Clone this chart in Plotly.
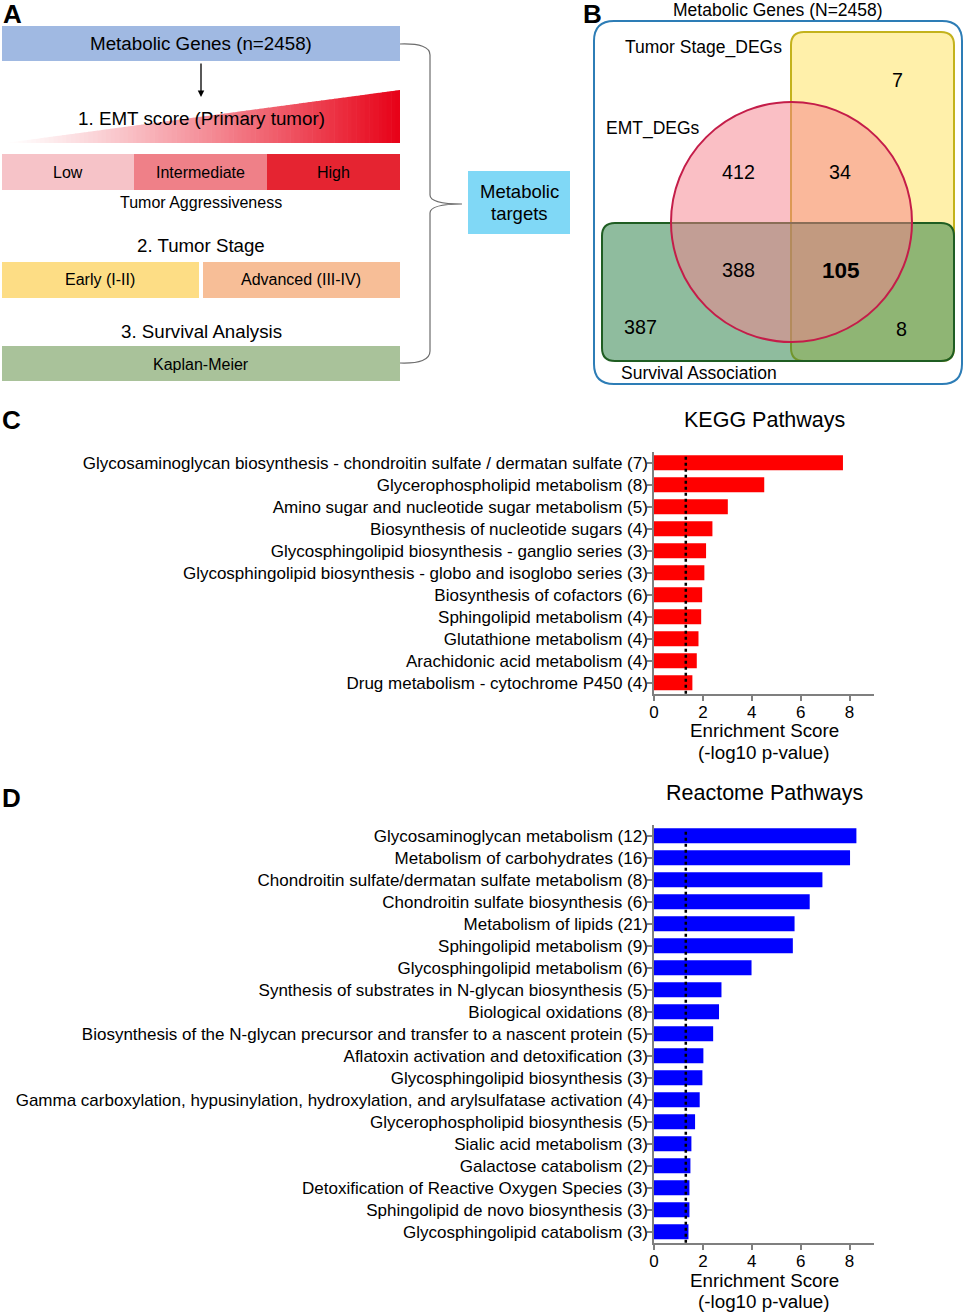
import plotly.graph_objects as go

W, H = 969, 1313

# ---------------- data ----------------
kegg_terms = [
    "Glycosaminoglycan biosynthesis - chondroitin sulfate / dermatan sulfate (7)",
    "Glycerophospholipid metabolism (8)",
    "Amino sugar and nucleotide sugar metabolism (5)",
    "Biosynthesis of nucleotide sugars (4)",
    "Glycosphingolipid biosynthesis - ganglio series (3)",
    "Glycosphingolipid biosynthesis - globo and isoglobo series (3)",
    "Biosynthesis of cofactors (6)",
    "Sphingolipid metabolism (4)",
    "Glutathione metabolism (4)",
    "Arachidonic acid metabolism (4)",
    "Drug metabolism - cytochrome P450 (4)",
]
kegg_scores = [7.73, 4.51, 3.02, 2.39, 2.13, 2.06, 1.97, 1.93, 1.82, 1.75, 1.57]

reactome_terms = [
    "Glycosaminoglycan metabolism (12)",
    "Metabolism of carbohydrates (16)",
    "Chondroitin sulfate/dermatan sulfate metabolism (8)",
    "Chondroitin sulfate biosynthesis (6)",
    "Metabolism of lipids (21)",
    "Sphingolipid metabolism (9)",
    "Glycosphingolipid metabolism (6)",
    "Synthesis of substrates in N-glycan biosynthesis (5)",
    "Biological oxidations (8)",
    "Biosynthesis of the N-glycan precursor and transfer to a nascent protein (5)",
    "Aflatoxin activation and detoxification (3)",
    "Glycosphingolipid biosynthesis (3)",
    "Gamma carboxylation, hypusinylation, hydroxylation, and arylsulfatase activation (4)",
    "Glycerophospholipid biosynthesis (5)",
    "Sialic acid metabolism (3)",
    "Galactose catabolism (2)",
    "Detoxification of Reactive Oxygen Species (3)",
    "Sphingolipid de novo biosynthesis (3)",
    "Glycosphingolipid catabolism (3)",
]
reactome_scores = [8.28, 8.02, 6.89, 6.37, 5.75, 5.68, 3.99, 2.76, 2.66, 2.42,
                   2.02, 1.98, 1.87, 1.68, 1.53, 1.49, 1.45, 1.45, 1.41]

x_tick_vals = [0, 2, 4, 6, 8]
pvalue_cutoff = 1.301  # -log10(0.05)

venn_set_labels = ["Tumor Stage_DEGs", "EMT_DEGs", "Survival Association"]
venn_counts = [7, 412, 34, 388, 105, 387, 8]

emt_levels = ["Low", "Intermediate", "High"]
stage_levels = ["Early (I-II)", "Advanced (III-IV)"]

# ---------------- helpers (pixel -> paper) ----------------
def X(px):
    return px / W


def Y(py):
    return 1 - py / H


def P(x, y):
    return "{:.5f},{:.5f}".format(X(x), Y(y))


def path_from(points, close=True):
    s = "M " + P(*points[0])
    for p in points[1:]:
        s += " L " + P(*p)
    if close:
        s += " Z"
    return s


def rounded_rect(x0, y0, x1, y1, r):
    return ("M " + P(x0 + r, y0) + " L " + P(x1 - r, y0) + " Q " + P(x1, y0) + " " + P(x1, y0 + r)
            + " L " + P(x1, y1 - r) + " Q " + P(x1, y1) + " " + P(x1 - r, y1)
            + " L " + P(x0 + r, y1) + " Q " + P(x0, y1) + " " + P(x0, y1 - r)
            + " L " + P(x0, y0 + r) + " Q " + P(x0, y0) + " " + P(x0 + r, y0) + " Z")


shapes = []
annotations = []
FONT = "Liberation Sans, Arial, sans-serif"


def rect(x0, y0, x1, y1, color):
    shapes.append(dict(type="rect", xref="paper", yref="paper",
                       x0=X(x0), x1=X(x1), y0=Y(y1), y1=Y(y0),
                       fillcolor=color, line=dict(width=0), layer="below"))


def text(px, py, s, size, bold=False, xanchor="center", color="black"):
    if bold:
        s = "<b>" + s + "</b>"
    annotations.append(dict(xref="paper", yref="paper", x=X(px), y=Y(py), text=s,
                            showarrow=False, xanchor=xanchor, yanchor="middle",
                            borderpad=0, font=dict(size=size, family=FONT, color=color)))


# ---------------- Panel A ----------------
text(2, 14, "A", 26, bold=True, xanchor="left")
rect(2, 26, 400, 61, "#A0B9E2")
text(201, 44, "Metabolic Genes (n=2458)", 18.8)
annotations.append(dict(xref="paper", yref="paper", axref="pixel", ayref="pixel",
                        x=X(201), y=Y(97), ax=0, ay=-35, text="",
                        showarrow=True, arrowhead=2, arrowsize=1, arrowwidth=1.3,
                        arrowcolor="black"))

# gradient triangle
N = 90
xl, xr, yb, yt = 5, 400, 143, 90
for i in range(N):
    a = xl + (xr - xl) * i / N
    b = min(xl + (xr - xl) * (i + 1) / N + 0.6, xr)
    ta = yb - (a - xl) / (xr - xl) * (yb - yt)
    tb = yb - (b - xl) / (xr - xl) * (yb - yt)
    t = ((i + 0.5) / N) ** 1.2
    r = int(round(255 + (231 - 255) * t))
    g = int(round(255 + (0 - 255) * t))
    bl = int(round(255 + (22 - 255) * t))
    shapes.append(dict(type="path", xref="paper", yref="paper",
                       path=path_from([(a, yb), (b, yb), (b, tb), (a, ta)]),
                       fillcolor="rgb({},{},{})".format(r, g, bl), line=dict(width=0),
                       layer="below"))
text(201, 118, "1. EMT score (Primary tumor)", 18.8)

emt_colors = ["#F6C3C8", "#EF8088", "#E52431"]
edges = [2, 134, 267, 400]
for i, lab in enumerate(emt_levels):
    rect(edges[i], 154, edges[i + 1], 190, emt_colors[i])
    text((edges[i] + edges[i + 1]) / 2, 172, lab, 16)
text(201, 203, "Tumor Aggressiveness", 16)

text(201, 246, "2. Tumor Stage", 18.7)
rect(2, 262, 199, 298, "#FDDD85")
rect(203, 262, 400, 298, "#F7BE97")
text(100, 280, stage_levels[0], 16)
text(301, 280, stage_levels[1], 16)

text(201, 331, "3. Survival Analysis", 18.7)
rect(2, 346, 400, 381, "#A9C29A")
text(201, 364, "Kaplan-Meier", 16)

brace = ("M " + P(400, 44) + " Q " + P(430, 43) + " " + P(430, 55)
         + " L " + P(430, 195) + " Q " + P(430, 204) + " " + P(462, 204)
         + " Q " + P(430, 204) + " " + P(430, 213)
         + " L " + P(430, 351) + " Q " + P(430, 364) + " " + P(400, 363))
shapes.append(dict(type="path", xref="paper", yref="paper", path=brace,
                   line=dict(color="#6d6d6d", width=1.2)))

rect(468, 171, 570, 234, "#80D8F6")
text(519, 191, "Metabolic", 18.5)
text(519, 214, "targets", 18.5)

# ---------------- Panel B ----------------
text(582, 14, "B", 26, bold=True, xanchor="left")
text(778, 10, "Metabolic Genes (N=2458)", 17.5)
shapes.append(dict(type="path", xref="paper", yref="paper",
                   path=rounded_rect(594, 21, 962, 384, 20),
                   line=dict(color="#2D7DB6", width=2), fillcolor="rgba(0,0,0,0)"))
shapes.append(dict(type="path", xref="paper", yref="paper",
                   path=rounded_rect(791, 32, 954, 361, 13),
                   line=dict(color="#C3B21C", width=2), fillcolor="rgba(255,225,85,0.5)"))
shapes.append(dict(type="path", xref="paper", yref="paper",
                   path=rounded_rect(602, 223, 954, 361, 13),
                   line=dict(color="#1F5D22", width=2), fillcolor="rgba(32,122,62,0.5)"))
shapes.append(dict(type="circle", xref="paper", yref="paper",
                   x0=X(671), x1=X(912), y0=Y(342), y1=Y(102),
                   line=dict(color="#C41D49", width=2), fillcolor="rgba(245,128,140,0.5)"))

text(703, 48, venn_set_labels[0], 17.5)
text(653, 128, venn_set_labels[1], 17.5)
text(699, 373, venn_set_labels[2], 17.5)

venn_pos = [(897, 80), (738, 172), (840, 172), (738, 270), (841, 270), (640, 327), (901, 329)]
for (px, py), c in zip(venn_pos, venn_counts):
    if c == 105:
        text(px, py, str(c), 22.5, bold=True)
    else:
        text(px, py, str(c), 19.7)

# ---------------- Panels C & D ----------------
text(1, 420, "C", 26, bold=True, xanchor="left")
text(1, 798, "D", 26, bold=True, xanchor="left")
text(764, 420, "KEGG Pathways", 21.5)
text(764, 793, "Reactome Pathways", 21.5)
for y0 in (0, 549):
    text(764, 731 + y0, "Enrichment Score", 18.8)
    text(764, 752 + y0, "(-log10 p-value)", 18.8)

fig = go.Figure()
fig.add_trace(go.Bar(x=kegg_scores, y=kegg_terms, orientation="h",
                     marker=dict(color="#FF0000", line=dict(width=0)), width=0.68,
                     xaxis="x", yaxis="y"))
fig.add_trace(go.Bar(x=reactome_scores, y=reactome_terms, orientation="h",
                     marker=dict(color="#0000FF", line=dict(width=0)), width=0.68,
                     xaxis="x2", yaxis="y2"))

for xr_, yr_ in (("x", "y"), ("x2", "y2")):
    shapes.append(dict(type="line", xref=xr_, yref=yr_ + " domain",
                       x0=pvalue_cutoff, x1=pvalue_cutoff, y0=0, y1=0.985,
                       line=dict(color="black", width=2.5, dash="dot")))

xdom = [X(654), X(874)]
common_x = dict(range=[0, 9], tickvals=x_tick_vals, ticks="outside", ticklen=6,
                tickwidth=1.5, tickcolor="#7f7f7f", showline=True, linecolor="#7f7f7f",
                linewidth=1.5, showgrid=False, zeroline=False, automargin=False,
                ticklabelstandoff=-4,
                tickfont=dict(size=17, family=FONT, color="black"), fixedrange=True)
common_y = dict(type="category", autorange="reversed", ticks="outside", ticklen=5,
                tickwidth=1.5, tickcolor="#7f7f7f", showline=True, linecolor="#7f7f7f",
                linewidth=1.5, showgrid=False, zeroline=False, automargin=False,
                ticklabelstandoff=-4,
                tickfont=dict(size=17, family=FONT, color="black"), fixedrange=True)

fig.update_layout(
    width=W, height=H,
    margin=dict(l=0, r=0, t=0, b=0, pad=0),
    paper_bgcolor="white", plot_bgcolor="white",
    showlegend=False,
    font=dict(family=FONT, color="black"),
    xaxis=dict(domain=xdom, anchor="y", **common_x),
    yaxis=dict(domain=[Y(693.7), Y(451.7)], anchor="x", **common_y),
    xaxis2=dict(domain=xdom, anchor="y2", **common_x),
    yaxis2=dict(domain=[Y(1242.7), Y(824.7)], anchor="x2", **common_y),
    shapes=shapes,
    annotations=annotations,
    bargap=0.3,
)

fig.write_html("out.html", config={"displayModeBar": False},
               post_script="document.body.style.margin='0';document.body.style.overflow='hidden';")
